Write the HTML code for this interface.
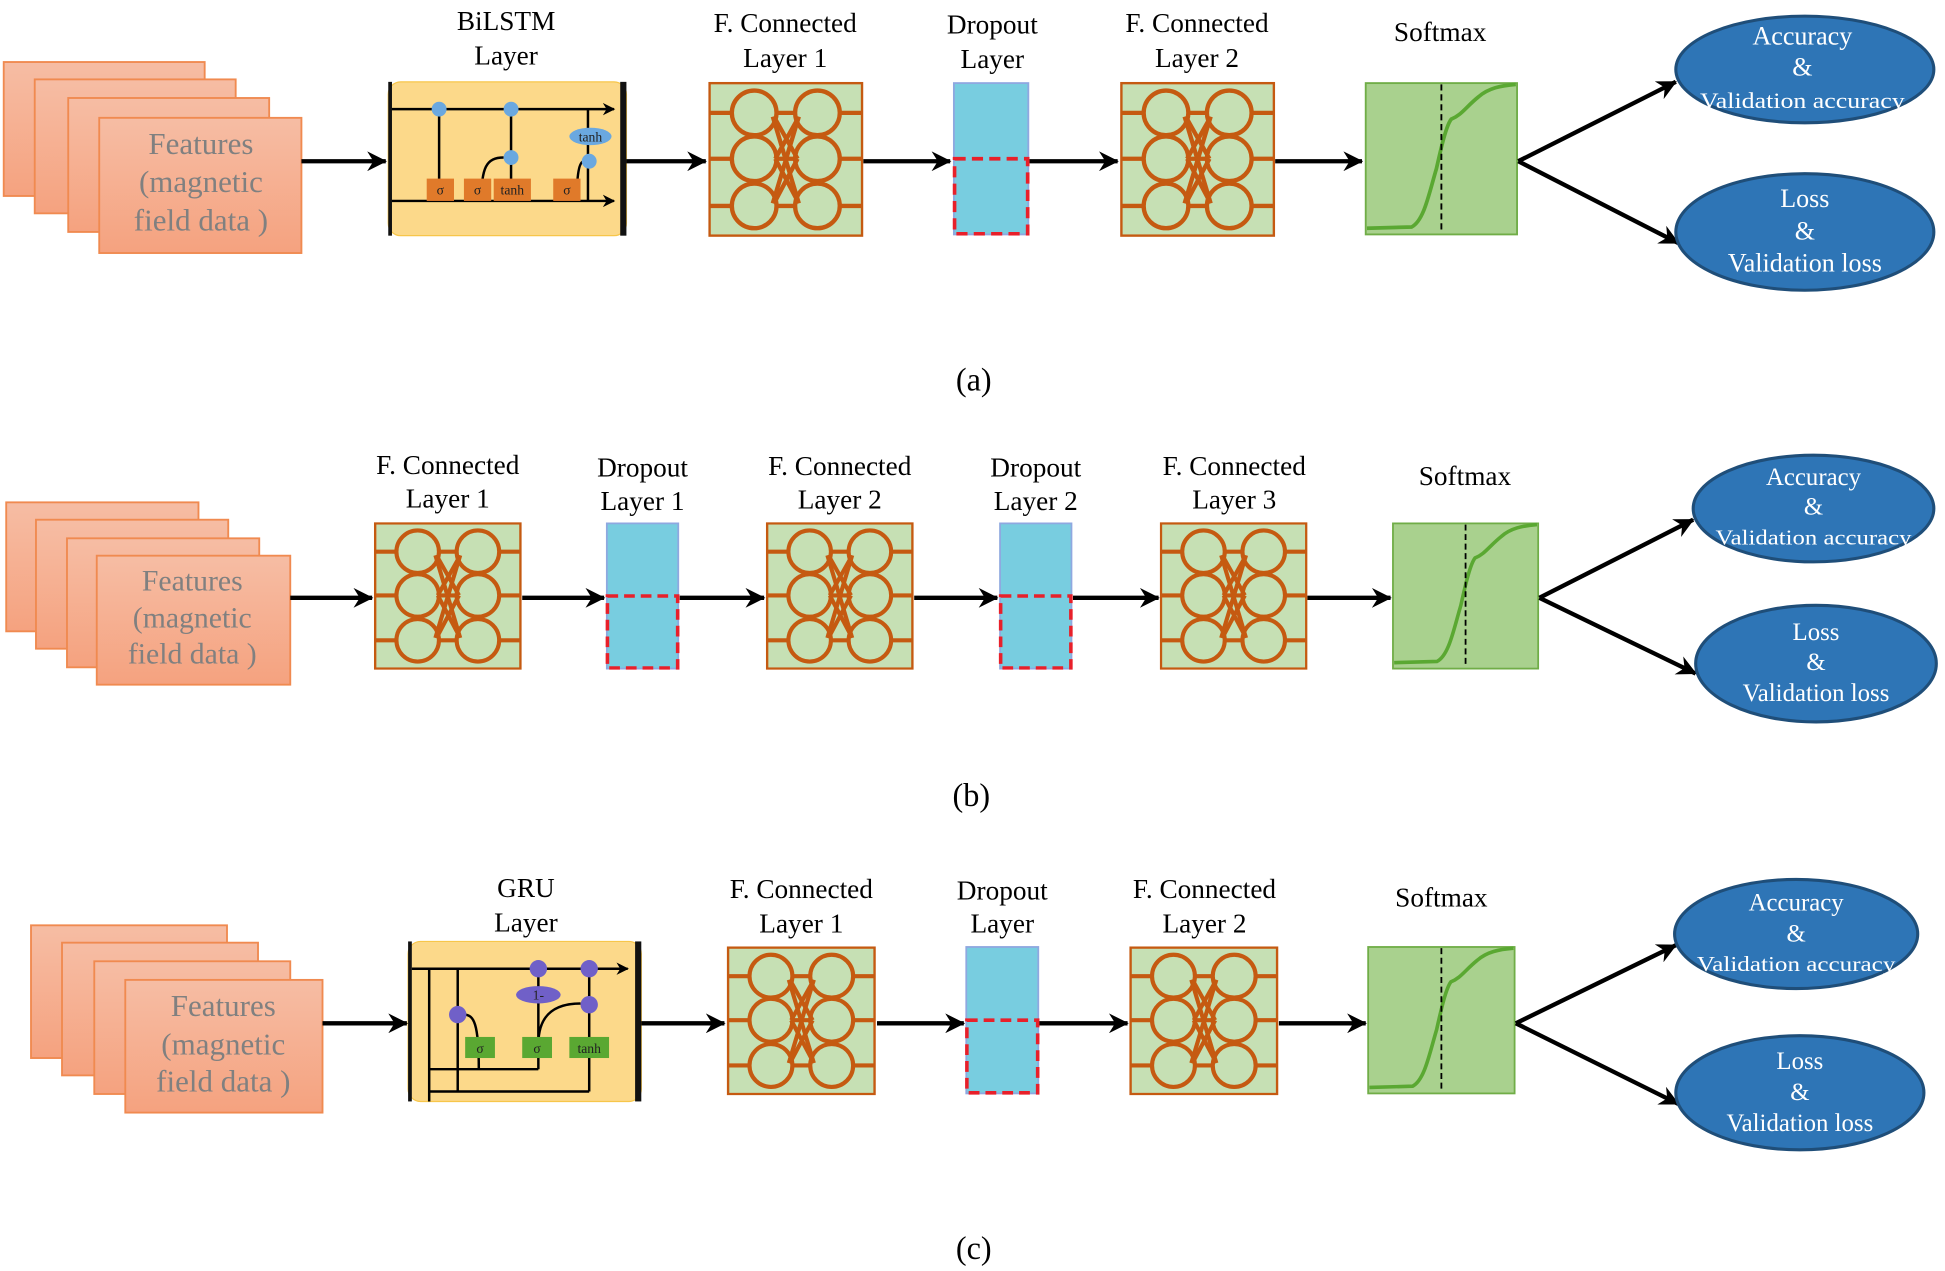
<!DOCTYPE html>
<html><head><meta charset="utf-8"><style>
html,body{margin:0;padding:0;background:#fff;}
svg{display:block;}
text{font-family:"Liberation Serif",serif;}
</style></head><body>
<svg width="1945" height="1271" viewBox="0 0 1568 1024.7" preserveAspectRatio="none" xmlns="http://www.w3.org/2000/svg">
<defs>
<linearGradient id="sal" x1="0" y1="0" x2="0" y2="1"><stop offset="0" stop-color="#f6bda4"/><stop offset="1" stop-color="#f5a27f"/></linearGradient>
<marker id="ah" markerWidth="10" markerHeight="10" refX="9" refY="5" orient="auto" markerUnits="userSpaceOnUse" viewBox="0 0 10 10"><path d="M0,0 L10,5 L0,10 L3,5 Z" fill="#000"/></marker>
<marker id="ah2" markerWidth="16" markerHeight="16" refX="15" refY="8" orient="auto" markerUnits="userSpaceOnUse" viewBox="0 0 16 16"><path d="M0,0 L16,8 L0,16 L5,8 Z" fill="#000"/></marker>
<symbol id="fc" viewBox="0 0 125 125">
<rect x="1" y="1" width="123" height="123" fill="#c6e0b4" stroke="#c55a11" stroke-width="2"/>
<g stroke="#c55a11" stroke-width="3.5" fill="none">
<line x1="1" y1="25" x2="20" y2="25"/><line x1="1" y1="62" x2="20" y2="62"/><line x1="1" y1="100" x2="20" y2="100"/>
<line x1="105" y1="25" x2="124" y2="25"/><line x1="105" y1="62" x2="124" y2="62"/><line x1="105" y1="100" x2="124" y2="100"/>
<line x1="55" y1="25" x2="70" y2="25"/><line x1="55" y1="62" x2="70" y2="62"/><line x1="55" y1="100" x2="70" y2="100"/>
<line x1="52" y1="28" x2="73" y2="98"/><line x1="73" y1="28" x2="52" y2="98"/>
<line x1="54" y1="30" x2="72" y2="62"/><line x1="72" y1="30" x2="54" y2="62"/>
<line x1="54" y1="62" x2="72" y2="96"/><line x1="72" y1="62" x2="54" y2="96"/>
<circle cx="37" cy="25" r="18"/><circle cx="37" cy="62" r="18"/><circle cx="37" cy="100" r="18"/>
<circle cx="88" cy="25" r="18"/><circle cx="88" cy="62" r="18"/><circle cx="88" cy="100" r="18"/>
</g></symbol>
<symbol id="dr" viewBox="0 0 62 124">
<rect x="1" y="1" width="60" height="122" fill="#78cde0" stroke="#8fa8e0" stroke-width="1.5"/>
<rect x="1.5" y="62" width="59" height="60.5" fill="none" stroke="#e8202a" stroke-width="3" stroke-dasharray="9,5"/>
</symbol>
<symbol id="sm" viewBox="0 0 124 124">
<rect x="1" y="1" width="122" height="122" fill="#a9d18e" stroke="#70ad47" stroke-width="1.5"/>
<path d="M2,118 L38,117 C48,112 52,90 58,70 C62,52 66,35 70,30 C78,27 82,20 92,12 C100,5 110,3 122,2" fill="none" stroke="#5aa832" stroke-width="3"/>
<line x1="62" y1="2" x2="62" y2="122" stroke="#000" stroke-width="1.5" stroke-dasharray="5,3"/>
</symbol>
</defs>

<g font-size="22" text-anchor="middle" fill="#000">
<!-- ===== (a) ===== -->
<g stroke="#f08a50" stroke-width="1.5" fill="url(#sal)">
<rect x="3" y="50" width="162" height="108"/><rect x="28" y="64" width="162" height="108"/><rect x="55" y="79" width="162" height="108"/><rect x="80" y="95" width="163" height="109"/>
</g>
<g fill="#808080" font-size="25"><text x="162" y="124">Features</text><text x="162" y="155">(magnetic</text><text x="162" y="186">field data )</text></g>

<rect x="313" y="66" width="192" height="124" rx="10" fill="#fcd98a" stroke="#f7c64a"/>
<rect x="313" y="66" width="3" height="124" fill="#111"/><rect x="500" y="66" width="5" height="124" fill="#111"/>
<g stroke="#000" stroke-width="2" fill="none">
<line x1="316" y1="88" x2="495" y2="88" marker-end="url(#ah)"/>
<line x1="316" y1="162" x2="495" y2="162" marker-end="url(#ah)"/>
<line x1="474" y1="88" x2="474" y2="162"/>
<line x1="354" y1="162" x2="354" y2="92"/><line x1="412" y1="162" x2="412" y2="92"/>
<path d="M388,162 C388,135 392,127 406,127"/><path d="M465,162 C465,135 468,130 471,130"/>
</g>
<g fill="#6aa8e0"><circle cx="354" cy="88" r="6"/><circle cx="412" cy="88" r="6"/><circle cx="412" cy="127" r="6"/><circle cx="475" cy="130" r="6"/><ellipse cx="476" cy="110" rx="17" ry="7"/></g>
<g fill="#e07a2a"><rect x="344" y="144" width="22" height="18"/><rect x="374" y="144" width="22" height="18"/><rect x="398" y="144" width="30" height="18"/><rect x="446" y="144" width="22" height="18"/></g>
<g font-size="11" fill="#222"><text x="355" y="157">σ</text><text x="385" y="157">σ</text><text x="413" y="157">tanh</text><text x="457" y="157">σ</text><text x="476" y="114">tanh</text></g>
<text x="408" y="24">BiLSTM</text><text x="408" y="52">Layer</text>

<use href="#fc" x="571" y="66" width="125" height="125"/>
<text x="633" y="26">F. Connected</text><text x="633" y="54">Layer 1</text>
<use href="#dr" x="768" y="66" width="62" height="124"/>
<text x="800" y="27">Dropout</text><text x="800" y="55">Layer</text>
<use href="#fc" x="903" y="66" width="125" height="125"/>
<text x="965" y="26">F. Connected</text><text x="965" y="54">Layer 2</text>
<use href="#sm" x="1100" y="66" width="124" height="124"/>
<text x="1161" y="33">Softmax</text>
<g stroke="#000" stroke-width="3.5">
<line x1="243" y1="130" x2="311" y2="130" marker-end="url(#ah2)"/>
<line x1="505" y1="130" x2="569" y2="130" marker-end="url(#ah2)"/>
<line x1="696" y1="130" x2="766" y2="130" marker-end="url(#ah2)"/>
<line x1="830" y1="130" x2="901" y2="130" marker-end="url(#ah2)"/>
<line x1="1028" y1="130" x2="1098" y2="130" marker-end="url(#ah2)"/>
<line x1="1224" y1="130" x2="1351" y2="66" marker-end="url(#ah2)"/>
<line x1="1224" y1="130" x2="1353" y2="196" marker-end="url(#ah2)"/>
</g>
<g fill="#2e75b6" stroke="#1f4e79" stroke-width="2.5"><ellipse cx="1455" cy="56" rx="104" ry="43"/><ellipse cx="1455" cy="187" rx="104" ry="47"/></g>
<g fill="#fff" font-size="21"><text x="1453" y="36">Accuracy</text><text x="1453" y="61">&amp;</text><text x="1453" y="87" font-size="18" textLength="165" lengthAdjust="spacingAndGlyphs">Validation accuracy</text>
<text x="1455" y="167">Loss</text><text x="1455" y="193">&amp;</text><text x="1455" y="219">Validation loss</text></g>
<text x="785" y="315" font-size="26">(a)</text>

<!-- ===== (b) ===== -->
<g stroke="#f08a50" stroke-width="1.5" fill="url(#sal)">
<rect x="5" y="405" width="155" height="104"/><rect x="29" y="419" width="155" height="104"/><rect x="54" y="434" width="155" height="104"/><rect x="78" y="448" width="156" height="104"/>
</g>
<g fill="#808080" font-size="24"><text x="155" y="476">Features</text><text x="155" y="506">(magnetic</text><text x="155" y="535">field data )</text></g>
<use href="#fc" x="301" y="421" width="120" height="119"/>
<text x="361" y="382">F. Connected</text><text x="361" y="409">Layer 1</text>
<use href="#dr" x="488" y="421" width="60" height="119"/>
<text x="518" y="384">Dropout</text><text x="518" y="411">Layer 1</text>
<use href="#fc" x="617" y="421" width="120" height="119"/>
<text x="677" y="383">F. Connected</text><text x="677" y="410">Layer 2</text>
<use href="#dr" x="805" y="421" width="60" height="119"/>
<text x="835" y="384">Dropout</text><text x="835" y="411">Layer 2</text>
<use href="#fc" x="935" y="421" width="119" height="119"/>
<text x="995" y="383">F. Connected</text><text x="995" y="410">Layer 3</text>
<use href="#sm" x="1122" y="421" width="119" height="119"/>
<text x="1181" y="391">Softmax</text>
<g stroke="#000" stroke-width="3.5">
<line x1="234" y1="482" x2="300" y2="482" marker-end="url(#ah2)"/>
<line x1="421" y1="482" x2="487" y2="482" marker-end="url(#ah2)"/>
<line x1="548" y1="482" x2="616" y2="482" marker-end="url(#ah2)"/>
<line x1="737" y1="482" x2="804" y2="482" marker-end="url(#ah2)"/>
<line x1="865" y1="482" x2="934" y2="482" marker-end="url(#ah2)"/>
<line x1="1054" y1="482" x2="1121" y2="482" marker-end="url(#ah2)"/>
<line x1="1241" y1="482" x2="1365" y2="419" marker-end="url(#ah2)"/>
<line x1="1241" y1="482" x2="1367" y2="543" marker-end="url(#ah2)"/>
</g>
<g fill="#2e75b6" stroke="#1f4e79" stroke-width="2.5"><ellipse cx="1462" cy="410" rx="97" ry="43"/><ellipse cx="1464" cy="535" rx="97" ry="47"/></g>
<g fill="#fff" font-size="20"><text x="1462" y="391">Accuracy</text><text x="1462" y="415">&amp;</text><text x="1462" y="439" font-size="17" textLength="158" lengthAdjust="spacingAndGlyphs">Validation accuracy</text>
<text x="1464" y="516">Loss</text><text x="1464" y="540">&amp;</text><text x="1464" y="565">Validation loss</text></g>
<text x="783" y="650" font-size="26">(b)</text>

<!-- ===== (c) ===== -->
<g stroke="#f08a50" stroke-width="1.5" fill="url(#sal)">
<rect x="25" y="746" width="158" height="107"/><rect x="50" y="760" width="158" height="107"/><rect x="76" y="775" width="158" height="107"/><rect x="101" y="790" width="159" height="107"/>
</g>
<g fill="#808080" font-size="25"><text x="180" y="819">Features</text><text x="180" y="850">(magnetic</text><text x="180" y="880">field data )</text></g>

<rect x="329" y="759" width="188" height="129" rx="10" fill="#fcd98a" stroke="#f7c64a"/>
<rect x="329" y="759" width="3" height="129" fill="#111"/><rect x="512" y="759" width="5" height="129" fill="#111"/>
<g stroke="#000" stroke-width="2" fill="none">
<line x1="332" y1="781" x2="506" y2="781" marker-end="url(#ah)"/>
<line x1="346" y1="781" x2="346" y2="888"/><line x1="369" y1="781" x2="369" y2="880"/>
<line x1="346" y1="862" x2="434" y2="862"/><line x1="434" y1="862" x2="434" y2="785"/>
<line x1="346" y1="880" x2="475" y2="880"/><line x1="475" y1="880" x2="475" y2="785"/>
<path d="M386,862 C386,825 382,818 374,818"/><path d="M434,842 C434,820 445,809 468,809"/>
</g>
<g fill="#7060c8"><circle cx="369" cy="818" r="7"/><circle cx="434" cy="781" r="7"/><circle cx="475" cy="781" r="7"/><circle cx="475" cy="810" r="7"/><ellipse cx="434" cy="802" rx="18" ry="7"/></g>
<g fill="#5aa832"><rect x="375" y="836" width="24" height="17"/><rect x="421" y="836" width="24" height="17"/><rect x="459" y="836" width="32" height="17"/></g>
<g font-size="11" fill="#222"><text x="387" y="849">σ</text><text x="433" y="849">σ</text><text x="475" y="849">tanh</text><text x="434" y="806">1-</text></g>
<text x="424" y="723">GRU</text><text x="424" y="751">Layer</text>

<use href="#fc" x="585" y="763" width="122" height="120"/>
<text x="646" y="724">F. Connected</text><text x="646" y="752">Layer 1</text>
<use href="#dr" x="778" y="762" width="60" height="121"/>
<text x="808" y="725">Dropout</text><text x="808" y="752">Layer</text>
<use href="#fc" x="910" y="763" width="121" height="120"/>
<text x="971" y="724">F. Connected</text><text x="971" y="752">Layer 2</text>
<use href="#sm" x="1102" y="762" width="120" height="121"/>
<text x="1162" y="731">Softmax</text>
<g stroke="#000" stroke-width="3.5">
<line x1="260" y1="825" x2="328" y2="825" marker-end="url(#ah2)"/>
<line x1="517" y1="825" x2="584" y2="825" marker-end="url(#ah2)"/>
<line x1="707" y1="825" x2="777" y2="825" marker-end="url(#ah2)"/>
<line x1="838" y1="825" x2="909" y2="825" marker-end="url(#ah2)"/>
<line x1="1031" y1="825" x2="1101" y2="825" marker-end="url(#ah2)"/>
<line x1="1222" y1="825" x2="1351" y2="762" marker-end="url(#ah2)"/>
<line x1="1222" y1="825" x2="1353" y2="890" marker-end="url(#ah2)"/>
</g>
<g fill="#2e75b6" stroke="#1f4e79" stroke-width="2.5"><ellipse cx="1448" cy="753" rx="98" ry="44"/><ellipse cx="1451" cy="881" rx="100" ry="46"/></g>
<g fill="#fff" font-size="20"><text x="1448" y="734">Accuracy</text><text x="1448" y="759">&amp;</text><text x="1448" y="783" font-size="17" textLength="160" lengthAdjust="spacingAndGlyphs">Validation accuracy</text>
<text x="1451" y="862">Loss</text><text x="1451" y="887">&amp;</text><text x="1451" y="912">Validation loss</text></g>
<text x="785" y="1015" font-size="26">(c)</text>
</g>
</svg>
</body></html>
